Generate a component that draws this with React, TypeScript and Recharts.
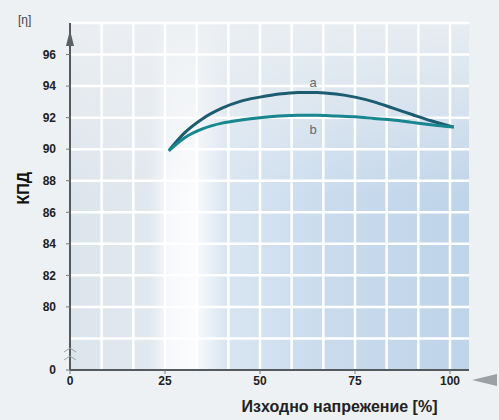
import React from 'react';
import { LineChart, Line, XAxis, YAxis, CartesianGrid } from 'recharts';

const loadPct = [26, 30, 35, 40, 45, 50, 55, 60, 65, 70, 75, 80, 85, 90, 95, 101];
const seriesA = [89.9, 91.0, 91.95, 92.6, 93.05, 93.3, 93.5, 93.6, 93.6, 93.5, 93.3, 93.0, 92.6, 92.2, 91.8, 91.4];
const seriesB = [89.9, 90.7, 91.3, 91.65, 91.85, 92.0, 92.1, 92.15, 92.15, 92.1, 92.05, 91.95, 91.85, 91.7, 91.55, 91.4];
const xTicks = [0, 25, 50, 75, 100];
const yTicks = [76, 80, 82, 84, 86, 88, 90, 92, 94, 96];
const gridX = [8.33, 16.67, 25, 33.33, 41.67, 50, 58.33, 66.67, 75, 83.33, 91.67, 100];
const gridY = [78, 80, 82, 84, 86, 88, 90, 92, 94, 96, 98];
const X_DOMAIN: [number, number] = [0, 105];
const Y_DOMAIN: [number, number] = [76, 98];
const labelIndex = 8;

const data = loadPct.map((x, i) => ({ x, a: seriesA[i], b: seriesB[i] }));

const FONT = '"Liberation Sans Narrow", "Arial Narrow", "Liberation Sans", sans-serif';

const mkLabel = (txt: string, dy: number) => (props: any) => {
  if (props.index !== labelIndex) return null;
  return (
    <text x={props.x - 4} y={props.y + dy} textAnchor="middle" fontSize={13} fill="#666b6e" fontFamily={FONT}>
      {txt}
    </text>
  );
};

const hGen = (p: any) => {
  const ya = p && p.yAxis;
  if (ya && typeof ya.scale === 'function') return gridY.map((v) => ya.scale(v));
  const o = p.offset;
  return gridY.map((v) => o.top + (o.height * (Y_DOMAIN[1] - v)) / (Y_DOMAIN[1] - Y_DOMAIN[0]));
};
const vGen = (p: any) => {
  const xa = p && p.xAxis;
  if (xa && typeof xa.scale === 'function') return gridX.map((v) => xa.scale(v));
  const o = p.offset;
  return gridX.map((v) => o.left + (o.width * (v - X_DOMAIN[0])) / (X_DOMAIN[1] - X_DOMAIN[0]));
};

export default function App() {
  return (
    <div style={{ position: 'absolute', left: 0, top: 0, width: 499, height: 420, background: '#eef1f3', overflow: 'hidden' }}>
      <LineChart width={499} height={420} data={data} margin={{ top: 23, right: 30, bottom: 20, left: 28 }}>
        <defs>
          <linearGradient id="bgH" x1="0" y1="0" x2="1" y2="0">
            <stop offset="0" stopColor="#dce4ec" />
            <stop offset="0.2" stopColor="#e2e8ef" />
            <stop offset="0.25" stopColor="#f7f9fb" />
            <stop offset="0.31" stopColor="#fbfcfd" />
            <stop offset="0.39" stopColor="#d9e5f1" />
            <stop offset="0.65" stopColor="#c9dbed" />
            <stop offset="1" stopColor="#bfd4e9" />
          </linearGradient>
          <linearGradient id="bgV" x1="0" y1="0" x2="0" y2="1">
            <stop offset="0" stopColor="#eceff2" stopOpacity={0.9} />
            <stop offset="0.25" stopColor="#eceff2" stopOpacity={0.5} />
            <stop offset="0.5" stopColor="#eceff2" stopOpacity={0} />
          </linearGradient>
        </defs>
        <CartesianGrid fill="url(#bgH)" horizontal={false} vertical={false} />
        <CartesianGrid
          fill="url(#bgV)"
          stroke="#ffffff"
          strokeWidth={2.5}
          horizontalCoordinatesGenerator={hGen}
          verticalCoordinatesGenerator={vGen}
        />
        <XAxis
          dataKey="x"
          type="number"
          domain={X_DOMAIN}
          ticks={xTicks}
          height={30}
          axisLine={{ stroke: '#555a5e', strokeWidth: 2 }}
          tickLine={{ stroke: '#777' }}
          tickSize={4}
          tick={{ fill: '#222', fontSize: 12, fontWeight: 700, fontFamily: FONT }}
          label={{ value: 'Изходно напрежение [%]', position: 'insideBottom', offset: -12, dx: 70, fill: '#222', fontSize: 16, fontWeight: 700, fontFamily: '"Liberation Sans", Arial, sans-serif' }}
        />
        <YAxis
          type="number"
          domain={Y_DOMAIN}
          ticks={yTicks}
          width={42}
          axisLine={{ stroke: '#555a5e', strokeWidth: 2 }}
          tickLine={{ stroke: '#777' }}
          tickSize={4}
          tickMargin={10}
          tickFormatter={(v: number) => (v === 76 ? '0' : String(v))}
          tick={{ fill: '#222', fontSize: 12, fontWeight: 700, fontFamily: FONT }}
          label={{ value: 'КПД', angle: -90, position: 'insideLeft', dx: -10, dy: 8, fill: '#111', fontSize: 16, fontWeight: 700, fontFamily: '"Liberation Sans", Arial, sans-serif' }}
        />
        <Line type="monotone" dataKey="a" stroke="#1d5b70" strokeWidth={3} dot={false} isAnimationActive={false} label={mkLabel('a', -5)} />
        <Line type="monotone" dataKey="b" stroke="#17868f" strokeWidth={3} dot={false} isAnimationActive={false} label={mkLabel('b', 19)} />
      </LineChart>
      <div style={{ position: 'absolute', left: 18, top: 13, fontSize: 12, color: '#444', fontFamily: FONT }}>[η]</div>
      <svg width={499} height={420} style={{ position: 'absolute', left: 0, top: 0, pointerEvents: 'none' }}>
        <polygon points="70,30 66,46 74,46" fill="#5a6064" />
        <polygon points="472,380 497,374 497,386" fill="#9aa0a4" />
        <path d="M64,352 L70,348 L76,352 M64,360 L70,356 L76,360" stroke="#9aa2a8" strokeWidth={1} fill="none" />
      </svg>
    </div>
  );
}
